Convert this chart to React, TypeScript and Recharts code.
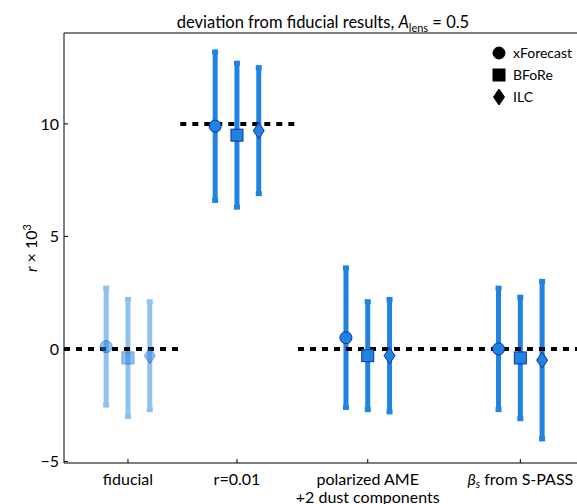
import React from "react";
import { ScatterChart, Scatter, XAxis, YAxis, ErrorBar, ReferenceLine } from "recharts";

// categories along x, and where each group sits on the x scale
const categories = ["fiducial", "r=0.01", "polarized AME|+2 dust components", "β_s from S-PASS"];
const categoryPos = [0, 1, 2.2, 3.6];

// methods, with their offset inside a group
const methods = ["xForecast", "BFoRe", "ILC"];
const methodOffset = [-0.2, 0, 0.2];

// r x 10^3, central value and error bar ends, one entry per category
const xForecastVal = [0.1, 9.9, 0.5, 0.0];
const xForecastHi = [2.7, 13.2, 3.6, 2.7];
const xForecastLo = [-2.5, 6.6, -2.6, -2.7];

const bforeVal = [-0.4, 9.5, -0.3, -0.4];
const bforeHi = [2.2, 12.7, 2.1, 2.3];
const bforeLo = [-3.0, 6.3, -2.7, -3.1];

const ilcVal = [-0.3, 9.7, -0.3, -0.5];
const ilcHi = [2.1, 12.5, 2.2, 3.0];
const ilcLo = [-2.7, 6.9, -2.8, -4.0];

// input r of each case (dashed lines) and the x ranges they cover
const inputR = [0, 10, 0, 0];
const inputEdges = [-0.587, 0.48, 1.56, 3.0, 4.12];

const yTicks = [-5, 0, 5, 10];
const xDomain = [-0.587, 4.12];
const yDomain = [-5.07, 14.04];

const FONT = "Lato, 'DejaVu Sans', sans-serif";
const BLUE = "#1f83e3";
const EDGE = "#10309c";

const allVals = [xForecastVal, bforeVal, ilcVal];
const allHi = [xForecastHi, bforeHi, ilcHi];
const allLo = [xForecastLo, bforeLo, ilcLo];

const buildSeries = (m: number, faded: boolean) =>
  categoryPos
    .map((p, i) => ({
      i,
      x: p + methodOffset[m],
      y: allVals[m][i],
      err: [allVals[m][i] - allLo[m][i], allHi[m][i] - allVals[m][i]],
    }))
    .filter((d) => (faded ? d.i === 0 : d.i !== 0));

const shapes = ["circle", "square", "diamond"];

const makeShape = (kind: string, faded: boolean, legend = false) => (props: any) => {
  const { cx, cy } = props;
  const fill = legend ? "#000" : BLUE;
  const stroke = legend ? "#000" : EDGE;
  const op = faded ? 0.5 : 1;
  if (kind === "circle")
    return <circle cx={cx} cy={cy} r={6} fill={fill} stroke={stroke} strokeWidth={1} opacity={op} />;
  if (kind === "square")
    return <rect x={cx - 6} y={cy - 6} width={12} height={12} fill={fill} stroke={stroke} strokeWidth={1} opacity={op} />;
  return (
    <path
      d={`M${cx},${cy - 8} L${cx + 5.5},${cy} L${cx},${cy + 8} L${cx - 5.5},${cy} Z`}
      fill={fill}
      stroke={stroke}
      strokeWidth={1}
      opacity={op}
    />
  );
};

const BottomTick = (props: any) => {
  const { x, y, payload } = props;
  const idx = categoryPos.indexOf(payload.value);
  const lines = (categories[idx] || "").split("|");
  return (
    <g>
      <line x1={x} x2={x} y1={y} y2={y - 4} stroke="#000" />
      {lines.map((ln, k) => {
        const parts = ln.split("_");
        return (
          <text key={k} x={x} y={y + 22 + k * 17.5} textAnchor="middle" fontSize={16} fontFamily={FONT} fill="#000">
            {parts.length > 1 ? (
              <>
                <tspan fontStyle="italic">{parts[0]}</tspan>
                <tspan fontStyle="italic" fontSize={11} dy={3}>{parts[1][0]}</tspan>
                <tspan dy={-3}>{parts[1].slice(1)}</tspan>
              </>
            ) : (
              ln
            )}
          </text>
        );
      })}
    </g>
  );
};

const TopTick = (props: any) => {
  const { x, y } = props;
  return <line x1={x} x2={x} y1={y} y2={y + 4} stroke="#000" />;
};

const LeftTick = (props: any) => {
  const { x, y, payload } = props;
  const v = payload.value;
  return (
    <g>
      <line x1={x} x2={x + 4} y1={y} y2={y} stroke="#000" />
      <text x={x - 5} y={y + 6} textAnchor="end" fontSize={16} fontFamily={FONT} fill="#000">
        {v < 0 ? `\u2212${Math.abs(v)}` : v}
      </text>
    </g>
  );
};

export default function App() {
  return (
    <div style={{ position: "absolute", left: 0, top: 0, width: 577, height: 504, background: "#fff", fontFamily: FONT }}>
      <ScatterChart width={577} height={504} margin={{ top: 0, right: 0, bottom: 0, left: 0 }}>
        <XAxis
          type="number"
          dataKey="x"
          domain={xDomain}
          ticks={categoryPos}
          allowDataOverflow
          height={41}
          tickSize={0}
          tickMargin={0}
          tickLine={false}
          axisLine={{ stroke: "#000" }}
          tick={<BottomTick />}
          interval={0}
        />
        <XAxis
          xAxisId="top"
          orientation="top"
          type="number"
          domain={xDomain}
          ticks={categoryPos}
          allowDataOverflow
          height={33}
          tickSize={0}
          tickMargin={0}
          tickLine={false}
          axisLine={{ stroke: "#000" }}
          tick={<TopTick />}
          interval={0}
        />
        <YAxis
          type="number"
          dataKey="y"
          domain={yDomain}
          ticks={yTicks}
          allowDataOverflow
          width={64}
          tickSize={0}
          tickMargin={0}
          tickLine={false}
          axisLine={{ stroke: "#000" }}
          tick={<LeftTick />}
          interval={0}
        />
        {methods.map((m, mi) => (
          <Scatter
            key={m + "-faded"}
            name={m}
            data={buildSeries(mi, true)}
            shape={makeShape(shapes[mi], true)}
            isAnimationActive={false}
          >
            <ErrorBar dataKey="err" direction="y" width={3} stroke="#8fc1f1" strokeWidth={5} isAnimationActive={false} />
          </Scatter>
        ))}
        {methods.map((m, mi) => (
          <Scatter
            key={m}
            name={m}
            data={buildSeries(mi, false)}
            shape={makeShape(shapes[mi], false)}
            isAnimationActive={false}
          >
            <ErrorBar dataKey="err" direction="y" width={3} stroke={BLUE} strokeWidth={5} isAnimationActive={false} />
          </Scatter>
        ))}
        {inputR.map((r, i) => (
          <ReferenceLine
            key={i}
            segment={[
              { x: inputEdges[i], y: r },
              { x: inputEdges[i + 1], y: r },
            ]}
            stroke="#000"
            strokeWidth={4}
            strokeDasharray="6 6"
            ifOverflow="visible"
          />
        ))}
      </ScatterChart>

      <div style={{ position: "absolute", top: 12, left: 64, width: 518, textAlign: "center", fontSize: 16.5, color: "#000" }}>
        deviation from fiducial results, <i>A</i>
        <sub style={{ fontSize: 11 }}>lens</sub> = 0.5
      </div>

      <div
        style={{
          position: "absolute",
          left: 30,
          top: 248,
          transform: "translate(-50%, -50%) rotate(-90deg)",
          whiteSpace: "nowrap",
          fontSize: 16,
          color: "#000",
        }}
      >
        <i>r</i> × 10<sup style={{ fontSize: 11 }}>3</sup>
      </div>

      <svg style={{ position: "absolute", left: 480, top: 40 }} width={97} height={70}>
        {methods.map((m, mi) => (
          <g key={m}>
            {makeShape(shapes[mi], false, true)({ cx: 19, cy: 13 + mi * 22 })}
            <text x={33} y={18 + mi * 22} fontSize={14} fontFamily={FONT} fill="#000">
              {m}
            </text>
          </g>
        ))}
      </svg>
    </div>
  );
}
